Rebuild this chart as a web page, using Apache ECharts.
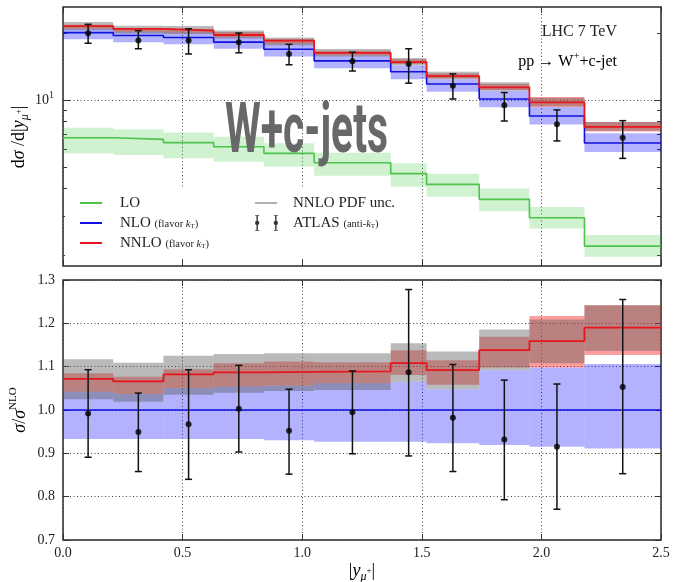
<!DOCTYPE html>
<html><head><meta charset="utf-8">
<script src="https://cdn.jsdelivr.net/npm/echarts@6/dist/echarts.min.js"></script>
<style>html,body{margin:0;padding:0;background:#fff}#c{width:673px;height:582px}</style>
</head><body><div id="c"></div>
<script>
// ---------- data ----------
const binEdges = [0, 0.21, 0.42, 0.63, 0.84, 1.05, 1.37, 1.52, 1.74, 1.95, 2.18, 2.5];
const dataX    = [0.105, 0.315, 0.525, 0.735, 0.945, 1.21, 1.445, 1.63, 1.845, 2.065, 2.34];

// top panel: dsigma/d|y|
const loXsec    = [6.76, 6.65, 6.43, 6.16, 5.75, 5.22, 4.66, 4.17, 3.57, 2.95, 2.20];
const loHi      = [7.50, 7.38, 7.13, 6.83, 6.38, 5.79, 5.19, 4.66, 4.00, 3.30, 2.47];
const loLo      = [5.75, 5.65, 5.46, 5.27, 5.01, 4.56, 4.07, 3.67, 3.16, 2.64, 1.97];
const nloXsec   = [20.1, 19.5, 19.1, 18.2, 16.9, 15.0, 13.4, 11.8, 10.1, 8.47, 6.40];
const nloHi     = [20.9, 20.2, 20.1, 19.2, 17.85, 15.9, 14.3, 12.4, 11.0, 9.30, 7.08];
const nloLo     = [18.75, 18.2, 17.8, 17.0, 15.7, 13.9, 12.4, 10.9, 9.28, 7.75, 5.83];
const nnloXsec  = [21.5, 20.9, 20.5, 19.6, 18.5, 16.3, 14.8, 12.8, 11.4, 9.76, 7.56];
const nnloHi    = [21.8, 21.0, 20.9, 20.2, 18.8, 16.65, 15.25, 13.16, 11.8, 10.3, 7.95];
const nnloLo    = [20.9, 20.2, 20.05, 19.2, 17.85, 15.9, 14.5, 12.5, 11.1, 9.30, 7.21];
const pdfHi     = [22.45, 21.6, 21.5, 20.55, 19.1, 16.95, 15.45, 13.4, 12.0, 10.24, 7.95];
const pdfLo     = [20.6, 19.9, 19.8, 18.9, 17.65, 15.7, 14.3, 12.4, 11.0, 9.38, 7.27];
const atlasXsec = [19.97, 18.5, 18.5, 18.2, 16.1, 14.95, 14.5, 11.6, 9.46, 7.77, 6.76];
const atlasHi   = [21.9, 20.5, 20.9, 20.0, 17.8, 16.4, 17.0, 13.1, 10.8, 9.02, 8.07];
const atlasLo   = [18.0, 17.0, 16.1, 16.3, 14.4, 13.5, 11.9, 10.1, 8.04, 6.54, 5.46];

// bottom panel: ratio to NLO
const nloRatio      = [1, 1, 1, 1, 1, 1, 1, 1, 1, 1, 1];
const nloRatioHi    = [1.042, 1.037, 1.050, 1.054, 1.056, 1.062, 1.065, 1.048, 1.092, 1.098, 1.106];
const nloRatioLo    = [0.933, 0.933, 0.933, 0.933, 0.930, 0.927, 0.927, 0.923, 0.919, 0.915, 0.911];
const nnloRatio     = [1.072, 1.066, 1.082, 1.087, 1.088, 1.089, 1.108, 1.092, 1.138, 1.159, 1.190];
const nnloRatioHi   = [1.085, 1.077, 1.094, 1.108, 1.112, 1.110, 1.138, 1.115, 1.169, 1.217, 1.242];
const nnloRatioLo   = [1.042, 1.037, 1.050, 1.054, 1.056, 1.062, 1.081, 1.058, 1.098, 1.098, 1.127];
const pdfRatioHi    = [1.117, 1.109, 1.125, 1.129, 1.131, 1.131, 1.154, 1.135, 1.186, 1.209, 1.242];
const pdfRatioLo    = [1.025, 1.019, 1.035, 1.040, 1.044, 1.046, 1.065, 1.048, 1.092, 1.108, 1.136];
const atlasRatio    = [0.992, 0.949, 0.967, 1.003, 0.952, 0.995, 1.087, 0.982, 0.932, 0.915, 1.053];
const atlasRatioHi  = [1.093, 1.039, 1.093, 1.103, 1.048, 1.090, 1.278, 1.105, 1.069, 1.060, 1.255];
const atlasRatioLo  = [0.891, 0.858, 0.840, 0.903, 0.852, 0.899, 0.894, 0.858, 0.793, 0.771, 0.853];

const topMinorTicks = [2, 3, 4, 5, 6, 7, 8, 9, 20];
const topMajorTicks = [10];

// ---------- styling ----------
const SERIF = "'Liberation Serif', 'DejaVu Serif', serif";
const TXT = '#222';
const C_LO = '#4cc44c', C_NLO = '#1010e0', C_NNLO = '#e8161c', C_PDF = '#b0b0b0';
const F_LO = 'rgba(60,200,60,0.24)', F_NLO = 'rgba(0,0,255,0.30)', F_NNLO = 'rgba(255,0,0,0.38)', F_PDF = 'rgba(90,90,90,0.42)';

function stepData(vals) { return binEdges.map((e, i) => [e, vals[Math.min(i, vals.length - 1)]]); }

function bandSeries(name, lo, hi, fill, xIdx, yIdx) {
  return {
    type: 'custom', name: name, xAxisIndex: xIdx, yAxisIndex: yIdx, silent: true,
    itemStyle: { color: fill },
    data: lo.map((l, i) => [binEdges[i], binEdges[i + 1], l, hi[i]]),
    encode: { x: [0, 1], y: [2, 3] },
    renderItem: function (params, api) {
      const p0 = api.coord([api.value(0), api.value(3)]);
      const p1 = api.coord([api.value(1), api.value(2)]);
      return { type: 'rect', shape: { x: p0[0], y: p0[1], width: p1[0] - p0[0], height: p1[1] - p0[1] }, style: { fill: fill } };
    }
  };
}
function lineSeries(name, vals, color, width, xIdx, yIdx) {
  return {
    type: 'line', name: name, xAxisIndex: xIdx, yAxisIndex: yIdx, step: 'end', showSymbol: false, silent: true,
    data: stepData(vals), color: color, lineStyle: { color: color, width: width }, z: 3
  };
}
function errSeries(name, lo, hi, xIdx, yIdx) {
  return {
    type: 'custom', name: name, xAxisIndex: xIdx, yAxisIndex: yIdx, silent: true, z: 4,
    data: dataX.map((x, i) => [x, lo[i], hi[i]]),
    encode: { x: 0, y: [1, 2] },
    renderItem: function (params, api) {
      const a = api.coord([api.value(0), api.value(2)]);
      const b = api.coord([api.value(0), api.value(1)]);
      const w = 3.5, st = { stroke: '#111', lineWidth: 1.5 };
      return { type: 'group', children: [
        { type: 'line', shape: { x1: a[0], y1: a[1], x2: b[0], y2: b[1] }, style: st },
        { type: 'line', shape: { x1: a[0] - w, y1: a[1], x2: a[0] + w, y2: a[1] }, style: st },
        { type: 'line', shape: { x1: b[0] - w, y1: b[1], x2: b[0] + w, y2: b[1] }, style: st }
      ] };
    }
  };
}
function dotSeries(name, vals, xIdx, yIdx) {
  return { type: 'scatter', name: name, xAxisIndex: xIdx, yAxisIndex: yIdx, silent: true, z: 5,
    data: dataX.map((x, i) => [x, vals[i]]), symbolSize: 6, itemStyle: { color: '#000' } };
}

const tickStyle = { color: '#333', width: 1 };
const dotted = { show: true, lineStyle: { color: '#444', type: [1, 2.5], width: 1 } };
function xAxisDef(grid, pos, labels, split) {
  return {
    type: 'value', gridIndex: grid, position: pos, min: 0, max: 2.5, interval: 0.5,
    axisLine: { show: false, onZero: false },
    axisTick: { show: true, inside: true, length: 6, lineStyle: tickStyle },
    axisLabel: labels ? { show: true, margin: 6, fontFamily: SERIF, fontSize: 14, color: TXT, formatter: v => v.toFixed(1) } : { show: false },
    splitLine: split ? dotted : { show: false }
  };
}
function logAxisDef(pos, ticks, len, major) {
  return {
    type: 'log', logBase: 10, gridIndex: 0, position: pos, min: 1.79, max: 26.2, offset: 0,
    axisLine: { show: false, onZero: false },
    axisTick: { show: true, inside: true, length: len, customValues: ticks, lineStyle: tickStyle },
    axisLabel: (major && pos === 'left') ? {
      show: true, customValues: topMajorTicks, margin: 9, color: TXT,
      formatter: v => (Math.abs(v - 10) < 1e-6 ? '{a|10}{s|1}' : ''),
      rich: { a: { fontFamily: SERIF, fontSize: 14, color: TXT, lineHeight: 20 },
              s: { fontFamily: SERIF, fontSize: 10, color: TXT, lineHeight: 10, verticalAlign: 'top' } }
    } : { show: false },
    splitLine: (major && pos === 'left') ? dotted : { show: false }
  };
}
function ratioAxisDef(pos) {
  return {
    type: 'value', gridIndex: 1, position: pos, min: 0.7, max: 1.3, interval: 0.1, offset: 0,
    axisLine: { show: false, onZero: false },
    axisTick: { show: true, inside: true, length: 6, lineStyle: tickStyle },
    axisLabel: pos === 'left' ? { show: true, margin: 8, fontFamily: SERIF, fontSize: 14, color: TXT, formatter: v => v.toFixed(1) } : { show: false },
    splitLine: pos === 'left' ? dotted : { show: false }
  };
}

const legendRich = {
  n: { fontFamily: SERIF, fontSize: 15, color: TXT, lineHeight: 18 },
  s: { fontFamily: SERIF, fontSize: 10.5, color: TXT, lineHeight: 12, verticalAlign: 'middle', padding: [3, 0, 0, 0] },
  si: { fontFamily: SERIF, fontSize: 10.5, fontStyle: 'italic', color: TXT, lineHeight: 12, verticalAlign: 'middle', padding: [3, 0, 0, 0] },
  st: { fontFamily: SERIF, fontSize: 7, color: TXT, lineHeight: 8, verticalAlign: 'middle', padding: [7, 0, 0, 0] }
};
const legendText = { fontFamily: SERIF, fontSize: 15, color: TXT, lineHeight: 18, rich: legendRich };
function legendFmt(name) {
  if (name === 'NLO' || name === 'NNLO') return '{n|' + name + '} {s|(flavor }{si|k}{st|T}{s|)}';
  if (name === 'ATLAS') return '{n|ATLAS} {s|(anti-}{si|k}{st|T}{s|)}';
  return '{n|' + name + '}';
}
const atlasIcon = 'path://M1 0h1.4v6h-1.4zM1 10h1.4v6h-1.4zM-0.3 0h4v1h-4zM-0.3 15h4v1h-4zM3.9 8a2.2 2.2 0 1 1-4.4 0a2.2 2.2 0 1 1 4.4 0z' +
  'M20 0h1.4v6h-1.4zM20 10h1.4v6h-1.4zM18.7 0h4v1h-4zM18.7 15h4v1h-4zM22.9 8a2.2 2.2 0 1 1-4.4 0a2.2 2.2 0 1 1 4.4 0z';

// watermark width fit
const mctx = document.createElement('canvas').getContext('2d');
mctx.font = 'bold 70px Roboto';
const wmScale = 163 / mctx.measureText('W+c-jets').width;

const mathRich = {
  n: { fontFamily: SERIF, fontSize: 18, color: TXT, lineHeight: 24 },
  i: { fontFamily: SERIF, fontSize: 18, fontStyle: 'italic', color: TXT, lineHeight: 24 },
  sub: { fontFamily: SERIF, fontSize: 12, fontStyle: 'italic', color: TXT, lineHeight: 12, verticalAlign: 'bottom' },
  ss: { fontFamily: SERIF, fontSize: 9, color: TXT, lineHeight: 14, verticalAlign: 'middle' },
  sup: { fontFamily: SERIF, fontSize: 11, color: TXT, lineHeight: 12, verticalAlign: 'top' }
};

const option = {
  animation: false,
  backgroundColor: '#fff',
  grid: [
    { left: 63, top: 7, width: 598, height: 259, show: true, borderColor: '#2a2a2a', borderWidth: 1.5, backgroundColor: 'rgba(0,0,0,0)' },
    { left: 63, top: 280, width: 598, height: 260, show: true, borderColor: '#2a2a2a', borderWidth: 1.5, backgroundColor: 'rgba(0,0,0,0)' }
  ],
  xAxis: [ xAxisDef(0, 'bottom', false, true), xAxisDef(0, 'top', false, false),
           xAxisDef(1, 'bottom', true, true), xAxisDef(1, 'top', false, false) ],
  yAxis: [ logAxisDef('left', topMajorTicks, 7, true), logAxisDef('left', topMinorTicks, 4, false),
           logAxisDef('right', topMajorTicks, 7, true), logAxisDef('right', topMinorTicks, 4, false),
           ratioAxisDef('left'), ratioAxisDef('right') ],
  legend: [
    { data: ['LO', 'NLO', 'NNLO'], orient: 'vertical', left: 75, top: 189, itemWidth: 22, itemHeight: 2, itemGap: 2,
      icon: 'rect', itemStyle: { borderWidth: 0 }, textStyle: Object.assign({ padding: [0, 0, 0, 13] }, legendText), formatter: legendFmt, selectedMode: false },
    { data: ['NNLO PDF unc.'], orient: 'vertical', left: 250, top: 189, itemWidth: 22, itemHeight: 2,
      icon: 'rect', itemStyle: { borderWidth: 0, color: C_PDF }, textStyle: Object.assign({ padding: [0, 0, 0, 11] }, legendText), formatter: legendFmt, selectedMode: false },
    { data: [{ name: 'ATLAS', icon: atlasIcon }], orient: 'vertical', left: 250, top: 209, itemWidth: 23, itemHeight: 16,
      itemStyle: { borderWidth: 0 }, textStyle: Object.assign({ padding: [0, 0, 0, 10] }, legendText), formatter: legendFmt, selectedMode: false }
  ],
  graphic: [
    { type: 'rect', z: 1, silent: true, shape: { x: 65, y: 189, width: 345, height: 70 }, style: { fill: '#fff' } },
    { type: 'text', z: 100, silent: true, x: 225, y: 134, scaleX: wmScale, scaleY: 1,
      style: { text: 'W+c-jets', font: 'bold 70px Roboto', fill: '#686868', align: 'left', verticalAlign: 'middle' } },
    { type: 'text', z: 50, silent: true, x: 617, y: 32,
      style: { text: 'LHC 7 TeV', font: "16px 'Liberation Serif', serif", fill: TXT, align: 'right', verticalAlign: 'middle' } },
    { type: 'text', z: 50, silent: true, x: 617, y: 62,
      style: { text: '{n|pp → W}{sup|+}{n|+c-jet}', align: 'right', verticalAlign: 'middle',
        rich: { n: { fontFamily: SERIF, fontSize: 16, color: TXT, lineHeight: 22 },
                sup: { fontFamily: SERIF, fontSize: 11, color: TXT, lineHeight: 12, verticalAlign: 'top' } } } },
    { type: 'text', z: 50, silent: true, x: 19, y: 137, rotation: Math.PI / 2,
      style: { text: '{n|d}{i|σ}{n| /d|}{i|y}{sub|μ}{ss|+}{n||}', align: 'center', verticalAlign: 'middle', rich: mathRich } },
    { type: 'text', z: 50, silent: true, x: 20, y: 410, rotation: Math.PI / 2,
      style: { text: '{i|σ}{n|/}{i|σ}{sup|NLO}', align: 'center', verticalAlign: 'middle', rich: mathRich } },
    { type: 'text', z: 50, silent: true, x: 362, y: 571,
      style: { text: '{n||}{i|y}{sub|μ}{ss|+}{n||}', align: 'center', verticalAlign: 'middle', rich: mathRich } }
  ],
  series: [
    // top panel
    bandSeries('LO band', loLo, loHi, F_LO, 0, 0),
    bandSeries('NLO band', nloLo, nloHi, F_NLO, 0, 0),
    bandSeries('NNLO band', nnloLo, nnloHi, F_NNLO, 0, 0),
    Object.assign(bandSeries('NNLO PDF unc.', pdfLo, pdfHi, F_PDF, 0, 0), { color: C_PDF }),
    lineSeries('LO', loXsec, C_LO, 1.6, 0, 0),
    lineSeries('NLO', nloXsec, C_NLO, 1.6, 0, 0),
    lineSeries('NNLO', nnloXsec, C_NNLO, 1.8, 0, 0),
    errSeries('ATLAS err', atlasLo, atlasHi, 0, 0),
    dotSeries('ATLAS', atlasXsec, 0, 0),
    // bottom panel
    bandSeries('NLO ratio band', nloRatioLo, nloRatioHi, F_NLO, 2, 4),
    bandSeries('NNLO ratio band', nnloRatioLo, nnloRatioHi, F_NNLO, 2, 4),
    bandSeries('PDF ratio band', pdfRatioLo, pdfRatioHi, F_PDF, 2, 4),
    lineSeries('NLO ratio', nloRatio, C_NLO, 1.6, 2, 4),
    lineSeries('NNLO ratio', nnloRatio, C_NNLO, 1.8, 2, 4),
    errSeries('ATLAS ratio err', atlasRatioLo, atlasRatioHi, 2, 4),
    dotSeries('ATLAS ratio', atlasRatio, 2, 4)
  ]
};
const chart = echarts.init(document.getElementById('c'));
chart.setOption(option);
</script>
</body></html>
